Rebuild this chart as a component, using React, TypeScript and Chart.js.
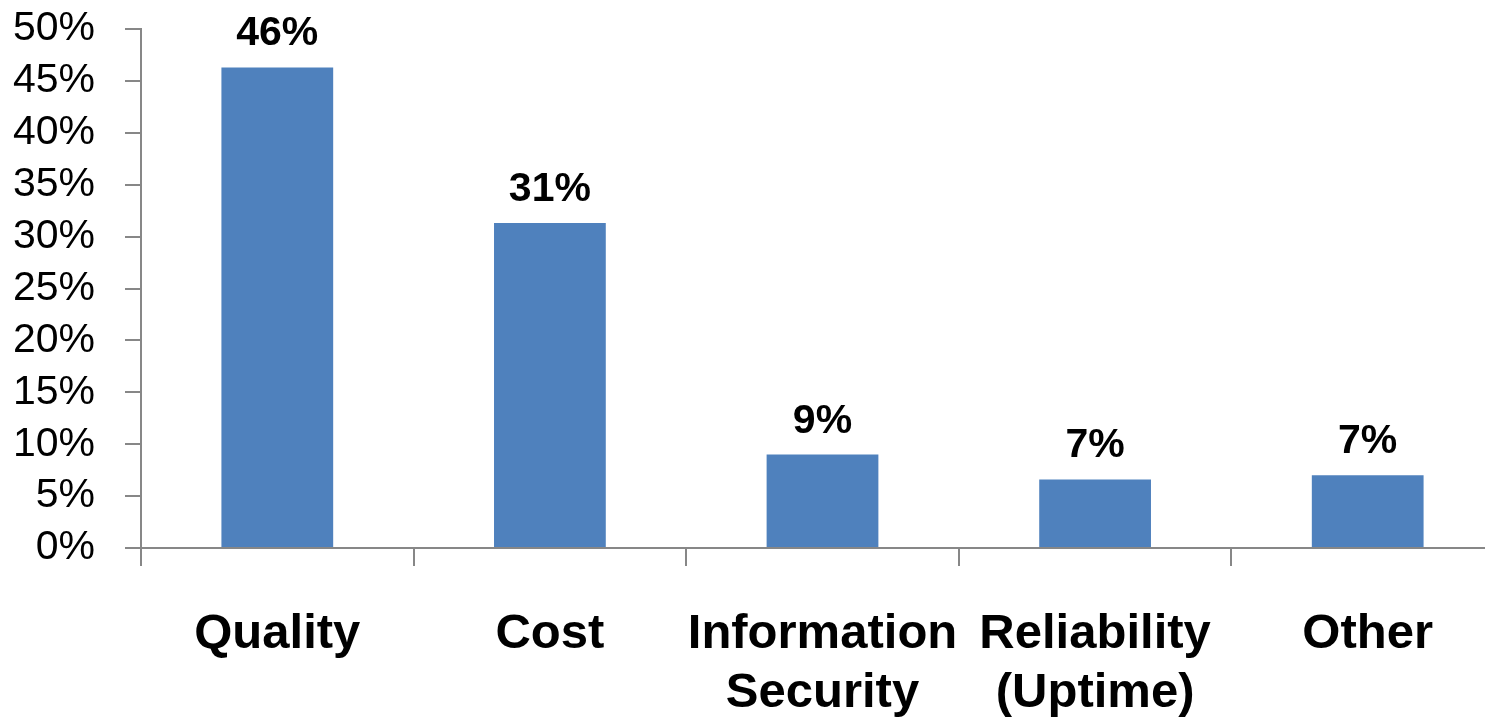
import React, { useEffect, useRef } from "react";
import { Chart, registerables } from "chart.js";

Chart.register(...registerables);

const categories: (string | string[])[] = [
  "Quality",
  "Cost",
  ["Information", "Security"],
  ["Reliability", "(Uptime)"],
  "Other",
];
const values: number[] = [46.3, 31.3, 9.0, 6.6, 7.0];
const yTicks: number[] = [0, 5, 10, 15, 20, 25, 30, 35, 40, 45, 50];

const FONT = "'Liberation Sans', Arial, sans-serif";
const AXIS = "#878787";

const valueLabels = {
  id: "valueLabels",
  afterDatasetsDraw(chart: any) {
    const ctx = chart.ctx;
    const meta = chart.getDatasetMeta(0);
    ctx.save();
    ctx.font = `bold 41px ${FONT}`;
    ctx.fillStyle = "#000";
    ctx.textAlign = "center";
    ctx.textBaseline = "alphabetic";
    meta.data.forEach((bar: any, i: number) => {
      ctx.fillText(`${Math.round(values[i])}%`, bar.x, bar.y - 22);
    });
    ctx.restore();
  },
};

export default function App() {
  const ref = useRef<HTMLCanvasElement>(null);
  useEffect(() => {
    if (!ref.current) return;
    const chart = new Chart(ref.current, {
      type: "bar",
      data: {
        labels: categories,
        datasets: [
          {
            data: values,
            backgroundColor: "#4f81bd",
            barPercentage: 0.82,
            categoryPercentage: 0.5,
          },
        ],
      },
      options: {
        animation: false,
        responsive: false,
        devicePixelRatio: 1,
        layout: { padding: { top: 29, right: 0, left: 0, bottom: 0 } },
        plugins: { legend: { display: false }, tooltip: { enabled: false } },
        scales: {
          x: {
            offset: true,
            grid: {
              offset: true,
              drawOnChartArea: false,
              drawTicks: true,
              tickLength: 18,
              color: AXIS,
              lineWidth: 2,
            },
            border: { color: AXIS, width: 2 },
            ticks: {
              color: "#000",
              font: { family: FONT, size: 49, weight: "bold", lineHeight: 1.2 },
              padding: 39,
              maxRotation: 0,
              autoSkip: false,
            },
            afterFit: (s: any) => {
              s.height = 721 - 548;
              s.paddingLeft = 0;
              s.paddingRight = 0;
            },
          },
          y: {
            min: 0,
            max: 50,
            afterBuildTicks: (s: any) => {
              s.ticks = yTicks.map((v) => ({ value: v }));
            },
            grid: {
              drawOnChartArea: false,
              drawTicks: true,
              tickLength: 16,
              color: AXIS,
              lineWidth: 2,
            },
            border: { color: AXIS, width: 2 },
            ticks: {
              color: "#000",
              font: { family: FONT, size: 41 },
              padding: 30,
              autoSkip: false,
              callback: (v: any) => `${v}%`,
            },
            afterFit: (s: any) => {
              s.width = 141;
              s.paddingTop = 0;
              s.paddingBottom = 0;
            },
          },
        },
      },
      plugins: [valueLabels],
    });
    return () => chart.destroy();
  }, []);
  return (
    <div
      style={{
        position: "fixed",
        left: 0,
        top: 0,
        width: 1485,
        height: 721,
        overflow: "hidden",
        background: "#fff",
      }}
    >
      <canvas ref={ref} width={1504} height={721} style={{ width: 1504, height: 721, display: "block" }} />
    </div>
  );
}
